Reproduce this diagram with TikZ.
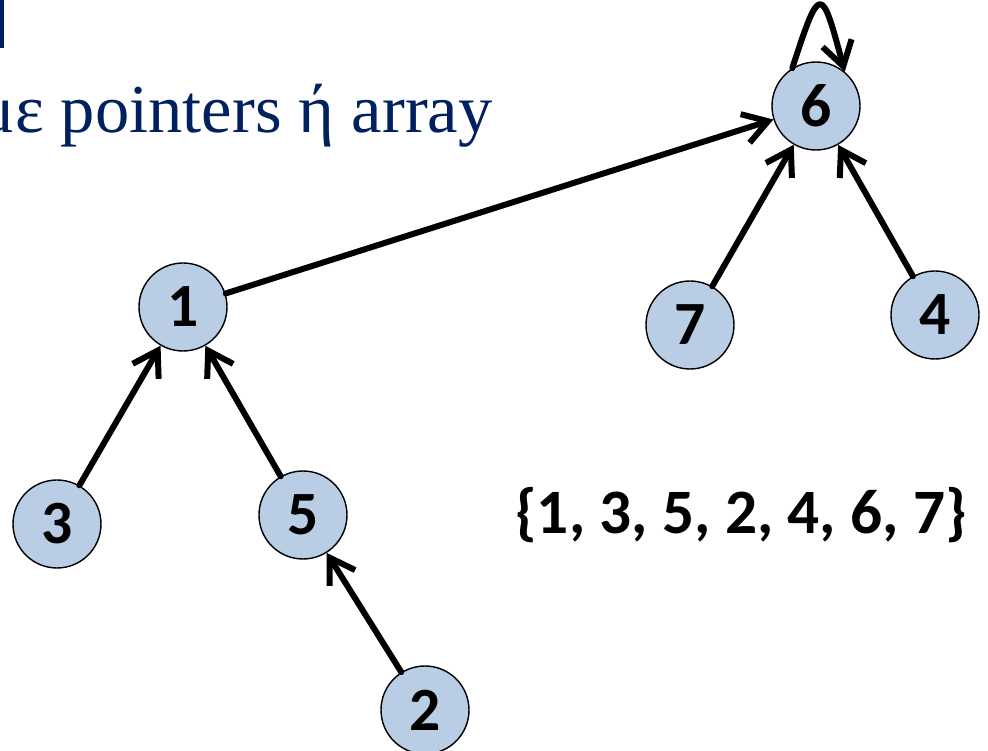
\documentclass[tikz,border=0pt]{standalone}
\usepackage{fontspec}
\setmainfont{Carlito}
\newfontfamily\titlefont{Liberation Serif}
\usetikzlibrary{arrows.meta}
\definecolor{nodeblue}{HTML}{B9CDE5}
\definecolor{navy}{HTML}{002060}

\tikzstyle{vertex} = [circle, minimum size=1.76cm, inner sep=0pt, fill=nodeblue, draw=black, line width=0.8pt, font=\fontsize{35}{40}\selectfont\bfseries]
\tikzstyle{setlabel} = [rectangle, text centered, font=\fontsize{36}{42}\selectfont\bfseries]
\tikzstyle{arrow} = [line width=0.12cm, line cap=round, line join=round, -{Straight Barb[length=0.48cm, width=0.6cm]}]

\begin{document}
\begin{tikzpicture}[node distance=1cm]
  \useasboundingbox (0,0) rectangle (19.76,-15.02);
  \clip (0,0) rectangle (19.76,-15.02);
  % slide title, cut off at the left edge
  \fill [navy] (0,0) rectangle (0.07,-0.96);
  \node (title) [anchor=base east, inner sep=0pt, text=navy, font=\titlefont\fontsize{39}{46}\selectfont] at (9.86,-2.66) {με pointers ή array};

  \node (six) [vertex] at (16.32,-2.12) {6};
  \node (one) [vertex, left of=six, xshift=-11.66cm, yshift=-4.02cm] {1};
  \node (seven) [vertex, below of=six, xshift=-2.52cm, yshift=-3.38cm] {7};
  \node (four) [vertex, below of=six, xshift=2.38cm, yshift=-3.18cm] {4};
  \node (three) [vertex, below of=one, xshift=-2.52cm, yshift=-3.34cm] {3};
  \node (five) [vertex, below of=one, xshift=2.40cm, yshift=-3.16cm] {5};
  \node (two) [vertex, below of=five, xshift=2.44cm, yshift=-2.90cm] {2};
  \node (set) [setlabel, right of=five, xshift=7.76cm] {\{1, 3, 5, 2, 4, 6, 7\}};

  \draw [arrow] (one) -- (six);
  \draw [arrow] (seven) -- (six);
  \draw [arrow] (four) -- (six);
  \draw [arrow] (three) -- (one);
  \draw [arrow] (five) -- (one);
  \draw [arrow] (two) -- (five);
  \draw [arrow] (six.122) .. controls +(72:1.8) and +(105:1.8) .. (six.50);
\end{tikzpicture}
\end{document}
